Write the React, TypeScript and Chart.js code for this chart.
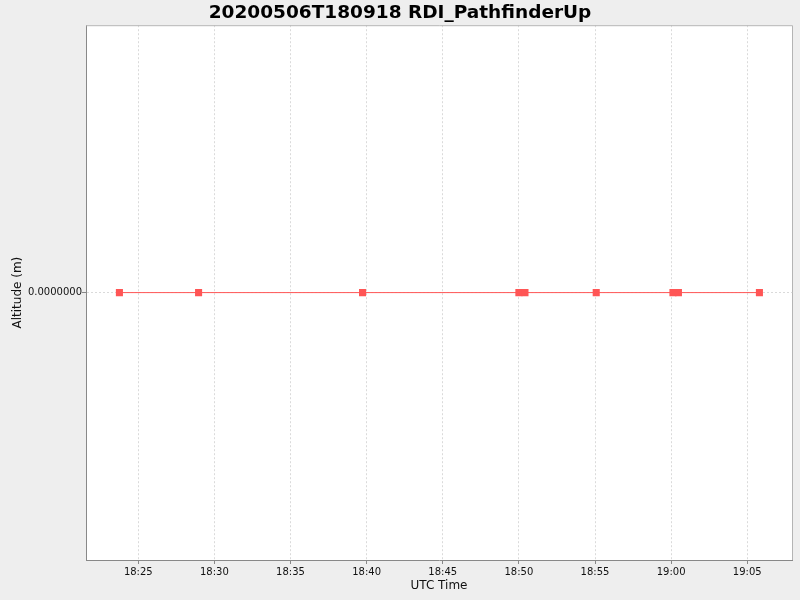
import { useEffect, useRef } from "react";
import { Chart, registerables, type ChartConfiguration, type Plugin } from "chart.js";

Chart.register(...registerables);

// minutes after 18:00 UTC
const times = [23.76, 28.96, 39.73, 50.0, 50.4, 55.08, 60.12, 60.48, 65.8];
const altitude = [0, 0, 0, 0, 0, 0, 0, 0, 0];
const xMin = 21.565;
const xMax = 67.94;
const yTicks = [0];

const TITLE = "20200506T180918 RDI_PathfinderUp";
const FONT_FAMILY = "'DejaVu Sans', sans-serif";
const RED = "#FF5555";

const fmtTime = (m: number) => {
  const h = 18 + Math.floor(m / 60);
  const mm = Math.round(m % 60);
  return `${h}:${String(mm).padStart(2, "0")}`;
};

// white plot area plus the light frame around it
const plotFrame: Plugin = {
  id: "plotFrame",
  beforeDraw(chart) {
    const { ctx, chartArea: a } = chart;
    ctx.save();
    ctx.fillStyle = "#FFFFFF";
    ctx.fillRect(a.left, a.top, a.right - a.left, a.bottom - a.top);
    ctx.restore();
  },
  afterDraw(chart) {
    const { ctx, chartArea: a } = chart;
    ctx.save();
    ctx.strokeStyle = "#B4B4B4";
    ctx.lineWidth = 1;
    ctx.beginPath();
    ctx.moveTo(a.left, a.top + 0.5);
    ctx.lineTo(a.right + 0.5, a.top + 0.5);
    ctx.lineTo(a.right + 0.5, a.bottom);
    ctx.stroke();
    ctx.restore();
  },
};

const gridOpts = {
  color: "#DADADA",
  tickLength: 4,
  tickColor: "#888888",
  tickBorderDash: [],
};

export default function App() {
  const canvasRef = useRef<HTMLCanvasElement>(null);
  const chartRef = useRef<Chart | null>(null);

  useEffect(() => {
    document.body.style.margin = "0";
    if (!canvasRef.current) return;
    chartRef.current?.destroy();

    const cfg: ChartConfiguration = {
      type: "line",
      data: {
        datasets: [
          {
            label: "Altitude",
            data: times.map((t, i) => ({ x: t, y: altitude[i] })),
            borderColor: RED,
            backgroundColor: RED,
            borderWidth: 1,
            pointStyle: "rect",
            pointRadius: 5,
            pointBorderWidth: 0,
            tension: 0,
            fill: false,
          },
        ],
      },
      options: {
        responsive: false,
        animation: false,
        layout: { padding: 0 },
        plugins: {
          legend: { display: false },
          tooltip: { enabled: false },
          title: {
            display: true,
            text: TITLE,
            color: "#000000",
            font: { family: FONT_FAMILY, size: 18.5, weight: "bold" },
            padding: { top: 2, bottom: 1 },
          },
        },
        scales: {
          x: {
            type: "linear",
            min: xMin,
            max: xMax,
            grid: gridOpts as any,
            border: { color: "#888888", width: 1, dash: [2, 2] },
            ticks: {
              stepSize: 5,
              includeBounds: false,
              maxRotation: 0,
              autoSkip: false,
              padding: 2,
              color: "#111111",
              font: { family: FONT_FAMILY, size: 10 },
              callback: (v) => fmtTime(Number(v)),
            },
            title: {
              display: true,
              text: "UTC Time",
              color: "#111111",
              font: { family: FONT_FAMILY, size: 12 },
              padding: { top: 0, bottom: 7 },
            },
            afterFit: (s) => {
              s.height = 40;
            },
          },
          y: {
            type: "linear",
            min: -1,
            max: 1,
            afterBuildTicks: (s) => {
              s.ticks = yTicks.map((v) => ({ value: v }));
            },
            grid: gridOpts as any,
            border: { color: "#888888", width: 1, dash: [2, 2] },
            ticks: {
              padding: 0,
              color: "#111111",
              font: { family: FONT_FAMILY, size: 10 },
              callback: (v) => Number(v).toFixed(7),
            },
            title: {
              display: true,
              text: "Altitude (m)",
              color: "#111111",
              font: { family: FONT_FAMILY, size: 12 },
              padding: { top: 11, bottom: 0 },
            },
            afterFit: (s) => {
              s.width = 86;
            },
          },
          // empty strip on the right so the title centres on the full width
          yGap: {
            type: "linear",
            position: "right",
            display: true,
            grid: { display: false, drawTicks: false },
            border: { display: false },
            ticks: { display: false },
            afterFit: (s) => {
              s.width = 8;
            },
          },
        },
      },
      plugins: [plotFrame],
    };

    chartRef.current = new Chart(canvasRef.current, cfg);
    return () => {
      chartRef.current?.destroy();
      chartRef.current = null;
    };
  }, []);

  return (
    <div style={{ width: 800, height: 600, background: "#EEEEEE" }}>
      <canvas ref={canvasRef} width={800} height={600} />
    </div>
  );
}
